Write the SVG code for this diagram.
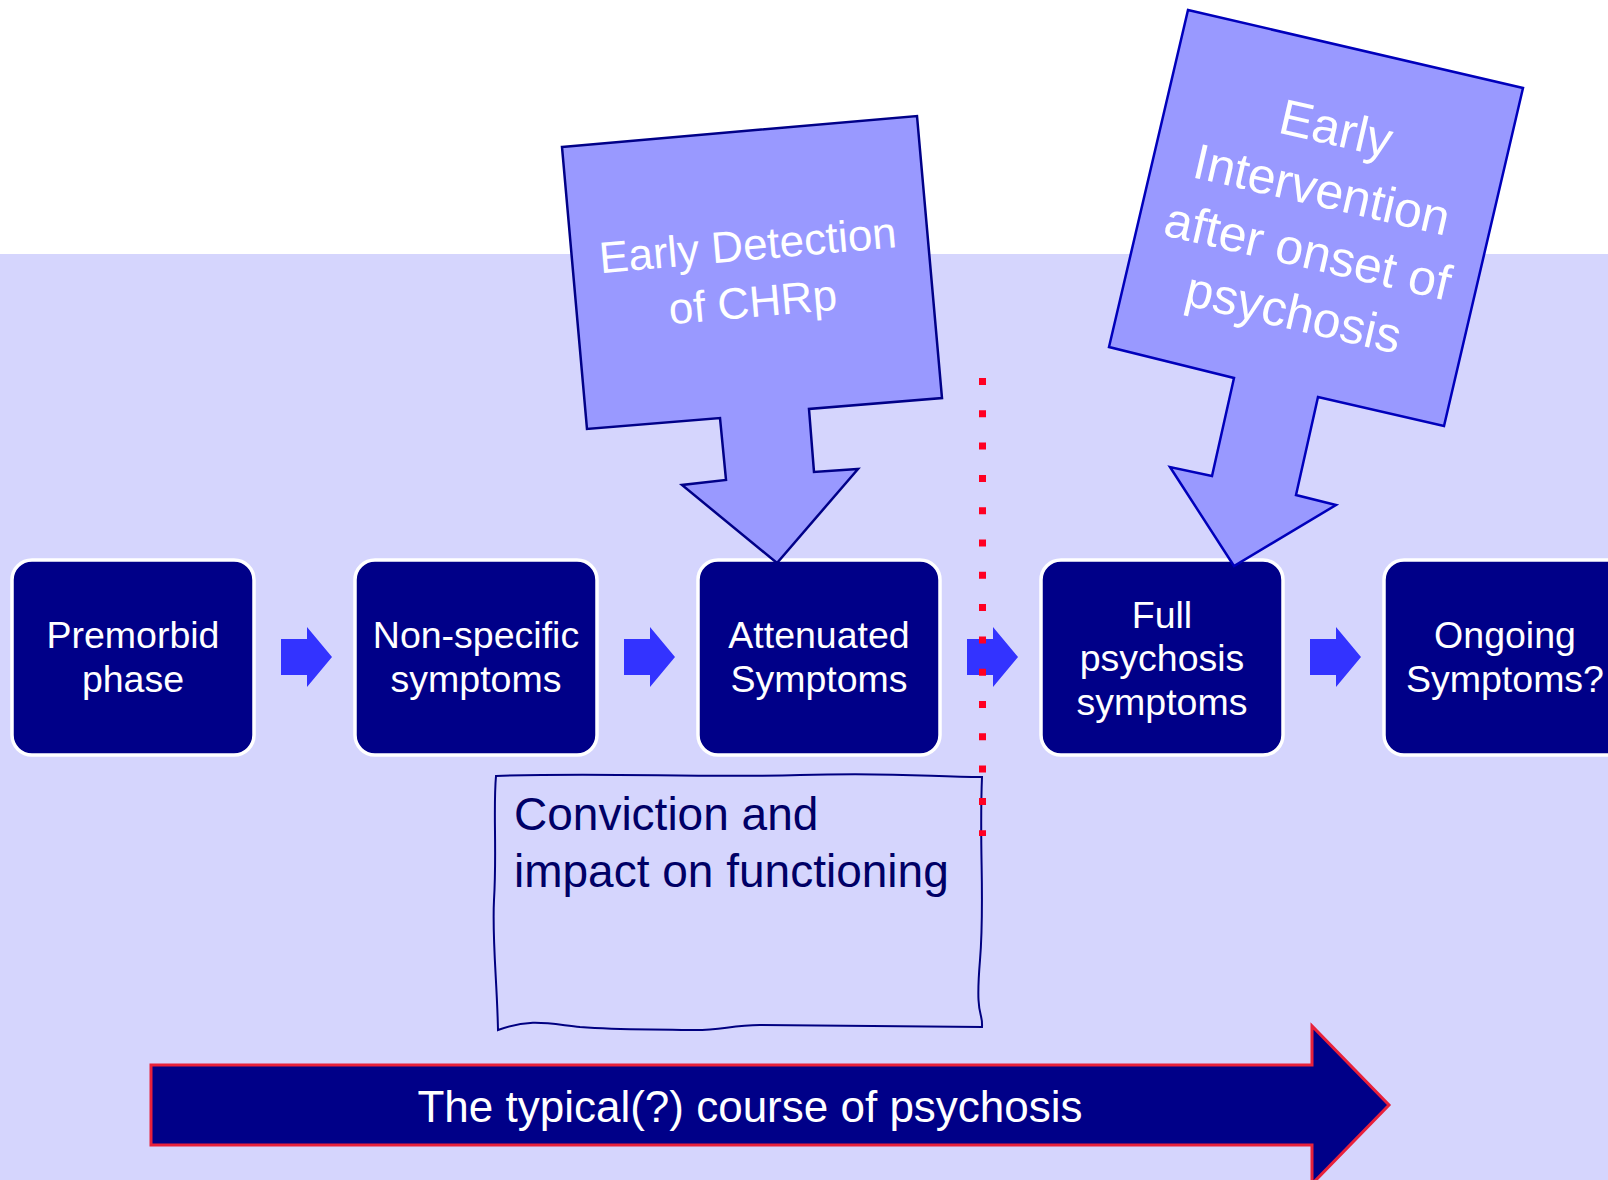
<svg xmlns="http://www.w3.org/2000/svg" xmlns:xlink="http://www.w3.org/1999/xlink" width="1608" height="1180" viewBox="0 0 1608 1180">
<style>
text{font-family:"Liberation Sans",Arial,sans-serif}
.node rect{fill:#000088;stroke:#ffffff;stroke-width:3.5}
.nt{fill:#ffffff;font-size:37.5px;text-anchor:middle}
.call{fill:#9999FF;stroke-width:2.5;stroke-linejoin:miter}
.ct{fill:#ffffff;text-anchor:middle}
.sa{fill:#3333FF}
</style>
<defs>
<path id="sarrow" class="sa" d="M0,639 L26,639 L26,627 L51,657 L26,687 L26,675 L0,675 Z"/>
</defs>
<rect x="0" y="0" width="1608" height="1180" fill="#ffffff"/>
<rect x="0" y="254" width="1608" height="926" fill="#D5D5FD"/>

<g id="connectors">
<use xlink:href="#sarrow" href="#sarrow" transform="translate(281,0)"/>
<use xlink:href="#sarrow" href="#sarrow" transform="translate(624,0)"/>
<use xlink:href="#sarrow" href="#sarrow" transform="translate(967,0)"/>
<use xlink:href="#sarrow" href="#sarrow" transform="translate(1310,0)"/>
</g>

<g id="node-premorbid" class="node">
<rect x="12" y="560" width="242" height="195" rx="20"/>
<text class="nt" x="133" y="648">Premorbid</text>
<text class="nt" x="133" y="692">phase</text>
</g>
<g id="node-nonspecific" class="node">
<rect x="355" y="560" width="242" height="195" rx="20"/>
<text class="nt" x="476" y="648">Non-specific</text>
<text class="nt" x="476" y="692">symptoms</text>
</g>
<g id="node-attenuated" class="node">
<rect x="698" y="560" width="242" height="195" rx="20"/>
<text class="nt" x="819" y="648">Attenuated</text>
<text class="nt" x="819" y="692">Symptoms</text>
</g>
<g id="node-full" class="node">
<rect x="1041" y="560" width="242" height="195" rx="20"/>
<text class="nt" x="1162" y="628">Full</text>
<text class="nt" x="1162" y="671">psychosis</text>
<text class="nt" x="1162" y="715">symptoms</text>
</g>
<g id="node-ongoing" class="node">
<rect x="1384" y="560" width="242" height="195" rx="20"/>
<text class="nt" x="1505" y="648">Ongoing</text>
<text class="nt" x="1505" y="692">Symptoms?</text>
</g>

<g id="callout-early-detection">
<path class="call" stroke="#000088" d="M562,147 L917,116 L942,398 L809,409 L814,472 L858,469 L777,563 L682,485 L726,480 L720,418 L587,429 Z"/>
<g transform="translate(752,293) rotate(-5)">
<text class="ct" x="0" y="-33" font-size="44">Early Detection</text>
<text class="ct" x="0" y="24" font-size="44">of CHRp</text>
</g>
</g>

<g id="callout-early-intervention">
<path class="call" stroke="#0000BB" d="M1188,10 L1523,88 L1444,426 L1318,397 L1296,495 L1336,505 L1234,566 L1170,467 L1212,476 L1234,378 L1109,347 Z"/>
<g transform="translate(1315,220) rotate(13)">
<text class="ct" x="0" y="-77" font-size="50">Early</text>
<text class="ct" x="0" y="-14" font-size="50">Intervention</text>
<text class="ct" x="0" y="49" font-size="50">after onset of</text>
<text class="ct" x="0" y="112" font-size="50">psychosis</text>
</g>
</g>

<g id="node-conviction">
<path d="M496,776 C600,772 700,778 800,775 S930,777 982,777 C979,850 985,900 980,960 S983,1010 982,1027 C900,1026 820,1025 760,1025 C730,1025 720,1031 690,1030 C640,1029 620,1030 580,1027 C550,1024 530,1018 498,1030 C497,980 492,940 494,900 C497,850 493,810 496,776 Z" fill="none" stroke="#000080" stroke-width="2"/>
<text x="514" y="830" font-size="46" fill="#000066">Conviction and</text>
<text x="514" y="887" font-size="46" fill="#000066">impact on functioning</text>
</g>

<g id="node-course">
<path d="M151,1065 L1312,1065 L1312,1026 L1389,1105 L1312,1184 L1312,1145 L151,1145 Z" fill="#000088" stroke="#E8213A" stroke-width="3"/>
<text x="750" y="1122" font-size="44" fill="#ffffff" text-anchor="middle">The typical(?) course of psychosis</text>
</g>

<g id="divider">
<line x1="982.5" y1="378" x2="982.5" y2="836" stroke="#FF0022" stroke-width="7" stroke-dasharray="7 25.3"/>
</g>
</svg>
